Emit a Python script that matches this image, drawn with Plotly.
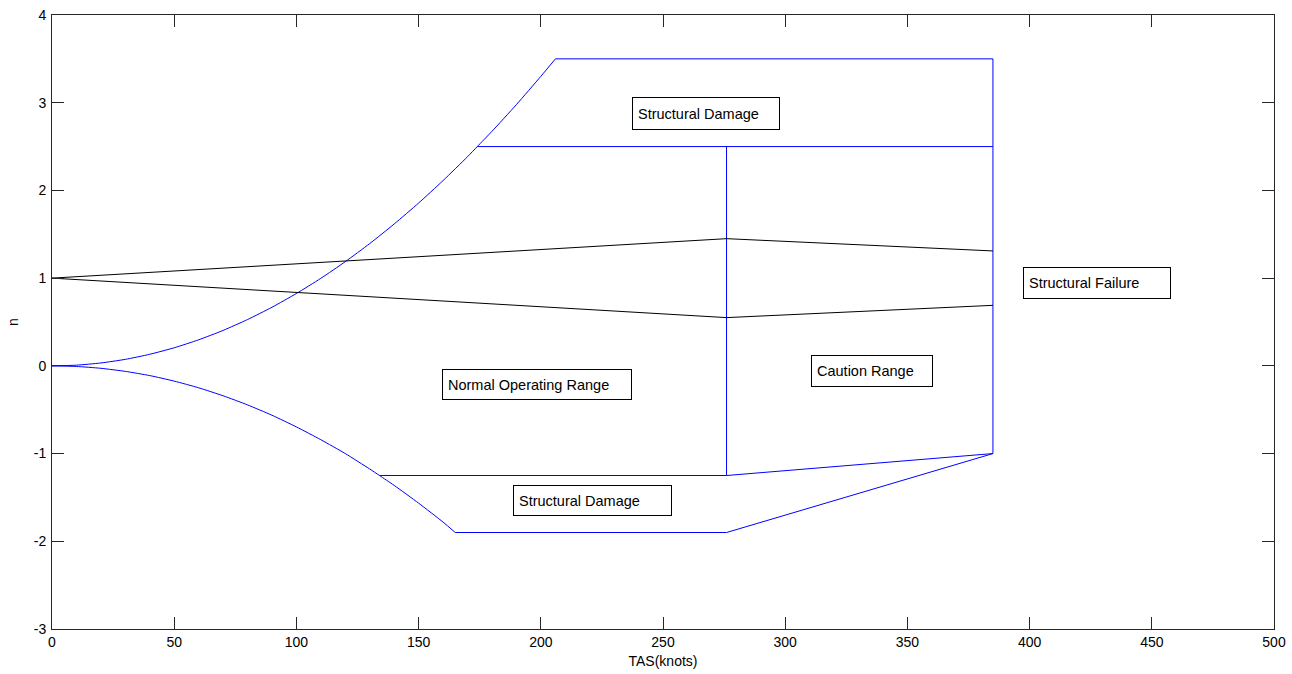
import plotly.graph_objects as go

# ---- data ----
# positive stall curve (TAS knots, load factor n)
v_pos = [0, 10, 20, 30, 40, 50, 60, 70, 80, 90, 100, 110, 120, 130, 140, 150,
         160, 170, 174, 180, 190, 200, 206]
n_pos = [0, 0.008, 0.033, 0.074, 0.132, 0.206, 0.297, 0.404, 0.528, 0.668, 0.825,
         0.998, 1.188, 1.394, 1.617, 1.856, 2.112, 2.384, 2.5, 2.673, 2.978, 3.30, 3.5]
# negative stall curve
v_neg = [0, 10, 20, 30, 40, 50, 60, 70, 80, 90, 100, 110, 120, 130, 134, 140,
         150, 160, 165]
n_neg = [0, -0.007, -0.028, -0.063, -0.111, -0.174, -0.25, -0.341, -0.445, -0.563,
         -0.696, -0.842, -1.0, -1.176, -1.25, -1.363, -1.565, -1.781, -1.9]

# envelope boundary segments
seg_top_v = [206, 385]
seg_top_n = [3.5, 3.5]
seg_right_v = [385, 385]
seg_right_n = [3.5, -1.0]
seg_lim_v = [174, 385]
seg_lim_n = [2.5, 2.5]
seg_vc_v = [276, 276]
seg_vc_n = [2.5, -1.25]
seg_neglim_v = [134, 276, 385]
seg_neglim_n = [-1.25, -1.25, -1.0]
seg_bottom_v = [165, 276, 385]
seg_bottom_n = [-1.9, -1.9, -1.0]

# gust lines
gust_v = [0, 276, 385]
gust_up_n = [1.0, 1.45, 1.31]
gust_dn_n = [1.0, 0.55, 0.69]

# region labels
label_text = ["Structural Damage", "Normal Operating Range", "Structural Failure",
              "Structural Damage", "Caution Range"]
label_x = [237.3, 159.6, 397.3, 188.6, 310.6]
label_y = [2.88, -0.21, 0.95, -1.54, -0.06]
label_w = [148, 190, 148, 159, 122]  # box widths in px
label_h = [33, 31, 32, 31, 32]

x_ticks = [0, 50, 100, 150, 200, 250, 300, 350, 400, 450, 500]
y_ticks = [-3, -2, -1, 0, 1, 2, 3, 4]

# ---- figure ----
fig = go.Figure()
blue = dict(color="#0000FF", width=1)
black = dict(color="#000000", width=1)

curves = [(v_pos, n_pos, True), (v_neg, n_neg, True),
          (seg_top_v, seg_top_n, False), (seg_right_v, seg_right_n, False),
          (seg_lim_v, seg_lim_n, False), (seg_vc_v, seg_vc_n, False),
          (seg_neglim_v, seg_neglim_n, False), (seg_bottom_v, seg_bottom_n, False)]
for vx, ny, smooth in curves:
    ln = dict(blue, shape="spline", smoothing=0.6) if smooth else blue
    fig.add_trace(go.Scatter(x=vx, y=ny, mode="lines", line=ln,
                             showlegend=False, hoverinfo="skip"))

for ny in [gust_up_n, gust_dn_n]:
    fig.add_trace(go.Scatter(x=gust_v, y=ny, mode="lines", line=black,
                             showlegend=False, hoverinfo="skip"))

FONT = "Liberation Sans, Arial"
pad = 5
for t, x, y, w, h in zip(label_text, label_x, label_y, label_w, label_h):
    fig.add_annotation(x=x, y=y, xref="x", yref="y", text=t, showarrow=False,
                       xanchor="left", yanchor="middle", align="left",
                       width=w - 2 * pad - 2, height=h - 2 * pad - 2,
                       borderpad=pad, bordercolor="#000000", borderwidth=1,
                       bgcolor="#FFFFFF",
                       font=dict(family=FONT, size=14.5, color="#000000"))

axis_common = dict(
    showgrid=False, zeroline=False, showline=True, linecolor="#262626", linewidth=1,
    mirror="ticks", ticks="inside", ticklen=12, tickcolor="#262626", tickwidth=1,
    tickfont=dict(family=FONT, size=14, color="#000000"), automargin=False,
    ticklabeloverflow="allow",
)

fig.update_xaxes(range=[0, 500], tickvals=x_ticks, ticktext=[str(v) for v in x_ticks],
                 title=dict(text="TAS(knots)", standoff=7,
                            font=dict(family=FONT, size=14, color="#000000")),
                 **axis_common)
fig.update_yaxes(range=[-3, 4], tickvals=y_ticks, ticktext=[str(v) for v in y_ticks],
                 ticklabelstandoff=2,
                 title=dict(text="n", standoff=11,
                            font=dict(family=FONT, size=14, color="#000000")),
                 **axis_common)

fig.update_layout(
    width=1292, height=674,
    margin=dict(l=52, r=18, t=15, b=45),
    plot_bgcolor="#FFFFFF", paper_bgcolor="#FFFFFF",
    font=dict(family=FONT, size=14, color="#000000"),
)

# remove the default 8px page margin so the figure sits at the window origin
fig.write_html("out.html", config={"displayModeBar": False},
               post_script="document.body.style.margin='0';document.body.style.overflow='hidden';")
